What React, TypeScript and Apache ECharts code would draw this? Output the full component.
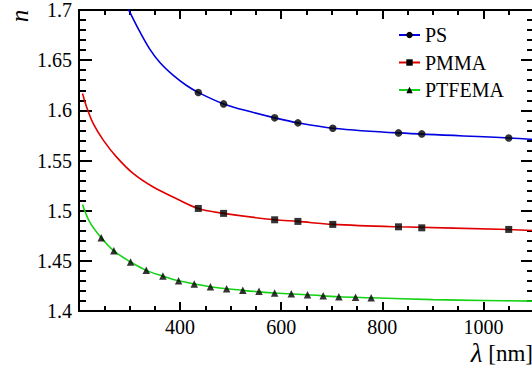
import React, { useEffect, useRef } from "react";
import * as echarts from "echarts";

// Measured data points (wavelength in nm, refractive index n)
const psWavelengths = [436, 486, 587, 633, 702, 832, 878, 1050];
const psIndex = [1.6178, 1.6064, 1.5925, 1.5875, 1.5822, 1.5775, 1.5765, 1.5725];

const pmmaWavelengths = [436, 486, 587, 633, 702, 832, 878, 1050];
const pmmaIndex = [1.5022, 1.4973, 1.4909, 1.4893, 1.4863, 1.4839, 1.4829, 1.4813];

const ptfemaWavelengths = [244, 269, 302, 333, 366, 397, 428, 460, 492, 524, 556, 587, 620, 652, 683, 714, 747, 778];
const ptfemaIndex = [1.473, 1.46, 1.4488, 1.4405, 1.4348, 1.4301, 1.4269, 1.4242, 1.4222, 1.4206, 1.4196, 1.4179, 1.4172, 1.4162, 1.4152, 1.4142, 1.4136, 1.4132];

// Fit curves
const psFitWavelengths = [292, 300, 320, 340, 360, 386, 412, 436, 486, 540, 587, 633, 702, 832, 1050, 1100];
const psFitIndex = [1.7065, 1.6983, 1.6786, 1.661, 1.6476, 1.635, 1.625, 1.6178, 1.6064, 1.5985, 1.5925, 1.5875, 1.5822, 1.5775, 1.5725, 1.571];

const pmmaFitWavelengths = [207, 215, 228, 248, 274, 307, 346, 392, 436, 486, 587, 633, 702, 832, 1050, 1100];
const pmmaFitIndex = [1.6168, 1.6034, 1.5869, 1.5703, 1.5536, 1.5371, 1.5238, 1.5122, 1.5022, 1.4973, 1.4909, 1.4893, 1.4863, 1.4839, 1.4813, 1.4803];

const ptfemaFitWavelengths = [207, 221, 244, 269, 302, 333, 366, 397, 460, 524, 587, 652, 714, 778, 900, 1000, 1100];
const ptfemaFitIndex = [1.5062, 1.4889, 1.473, 1.46, 1.4488, 1.4405, 1.4348, 1.4301, 1.4242, 1.4206, 1.4179, 1.4162, 1.4142, 1.4132, 1.4113, 1.4105, 1.4098];

const seriesNames = ["PS", "PMMA", "PTFEMA"];
const lineColors = ["#0000e0", "#e00000", "#14d214"];

const xMin = 200;
const xMax = 1100;
const yMin = 1.4;
const yMax = 1.7;

const FONT = "Liberation Serif, DejaVu Serif, serif";

function zip(xs: number[], ys: number[]) {
  return xs.map((x, i) => [x, ys[i]]);
}

export default function App() {
  const ref = useRef<HTMLDivElement>(null);

  useEffect(() => {
    document.documentElement.style.overflow = "hidden";
    document.body.style.margin = "0";
    document.body.style.overflow = "hidden";
    const chart = echarts.init(ref.current!, undefined, { renderer: "svg" });

    const axisLine = { show: true, lineStyle: { color: "#000", width: 2 } };
    const labelStyle = {
      color: "#000",
      fontFamily: FONT,
      fontSize: 20,
    };
    const xMajor = (position: "top" | "bottom", labels: boolean) => ({
      type: "value",
      position,
      min: xMin,
      max: xMax,
      interval: 200,
      axisLine,
      axisTick: { show: true, inside: true, length: 9, lineStyle: { color: "#000", width: 2 } },
      axisLabel: {
        show: labels,
        showMinLabel: false,
        showMaxLabel: false,
        ...labelStyle,
        margin: 6,
        formatter: (v: number) => String(v),
      },
      splitLine: { show: false },
    });
    const xMinor = (position: "top" | "bottom") => ({
      type: "value",
      position,
      min: xMin,
      max: xMax,
      interval: 50,
      axisLine: { show: false },
      axisTick: { show: true, inside: true, length: 5, lineStyle: { color: "#000", width: 2 } },
      axisLabel: { show: false },
      splitLine: { show: false },
    });
    const yAxis = (position: "left" | "right", labels: boolean) => ({
      type: "value",
      position,
      min: yMin,
      max: yMax,
      interval: 0.05,
      axisLine,
      axisTick: { show: true, inside: true, length: 13, lineStyle: { color: "#000", width: 2 } },
      minorTick: { show: true, splitNumber: 5, length: 7, lineStyle: { color: "#000", width: 2 } },
      axisLabel: {
        show: labels,
        ...labelStyle,
        margin: 7,
        formatter: (v: number) => String(Math.round(v * 100) / 100),
      },
      splitLine: { show: false },
      minorSplitLine: { show: false },
    });

    const fits = [
      zip(psFitWavelengths, psFitIndex),
      zip(pmmaFitWavelengths, pmmaFitIndex),
      zip(ptfemaFitWavelengths, ptfemaFitIndex),
    ];
    const pts = [
      zip(psWavelengths, psIndex),
      zip(pmmaWavelengths, pmmaIndex),
      zip(ptfemaWavelengths, ptfemaIndex),
    ];
    const symbols = ["circle", "rect", "triangle"];
    const symbolSizes = [7.5, 7, 7.5];

    const lineSeries = seriesNames.map((name, i) => ({
      name,
      type: "line",
      xAxisIndex: 0,
      yAxisIndex: 0,
      data: fits[i],
      smooth: 0.35,
      showSymbol: false,
      symbol: symbols[i],
      itemStyle: { color: "#000" },
      lineStyle: { color: lineColors[i], width: 1.6 },
      clip: true,
      z: 2,
    }));
    const scatterSeries = seriesNames.map((name, i) => ({
      name: name + " data",
      type: "scatter",
      xAxisIndex: 0,
      yAxisIndex: 0,
      data: pts[i],
      symbol: symbols[i],
      symbolSize: symbolSizes[i],
      itemStyle: { color: "#000" },
      z: 3,
    }));

    chart.setOption({
      animation: false,
      textStyle: { fontFamily: FONT },
      grid: { left: 79, right: 6, top: 10, bottom: 60, containLabel: false },
      xAxis: [xMajor("bottom", true), xMinor("bottom"), xMajor("top", false), xMinor("top")],
      yAxis: [yAxis("left", true), yAxis("right", false)],
      legend: {
        data: seriesNames,
        orient: "vertical",
        left: 393,
        top: 20,
        padding: 5,
        itemWidth: 21,
        itemHeight: 8,
        itemGap: 7.5,
        textStyle: { color: "#000", fontFamily: FONT, fontSize: 20 },
      },
      graphic: [
        {
          type: "text",
          x: 19,
          y: 16,
          rotation: Math.PI / 2,
          style: {
            text: "n",
            fontFamily: FONT,
            fontSize: 25,
            fontStyle: "italic",
            fill: "#000",
            align: "center",
            verticalAlign: "middle",
          },
        },
        {
          type: "text",
          x: 533,
          y: 353,
          style: {
            text: "{i|λ} {t|[nm]}",
            fontFamily: FONT,
            fontSize: 23,
            fill: "#000",
            align: "right",
            verticalAlign: "middle",
            rich: {
              i: { fontFamily: FONT, fontSize: 27, fontStyle: "italic", fill: "#000" },
              t: { fontFamily: FONT, fontSize: 23, fill: "#000" },
            },
          },
        },
      ],
      series: [...lineSeries, ...scatterSeries],
    });

    return () => chart.dispose();
  }, []);

  return (
    <div
      ref={ref}
      style={{ position: "fixed", left: 0, top: 0, width: 540, height: 371, background: "#fff" }}
    />
  );
}
